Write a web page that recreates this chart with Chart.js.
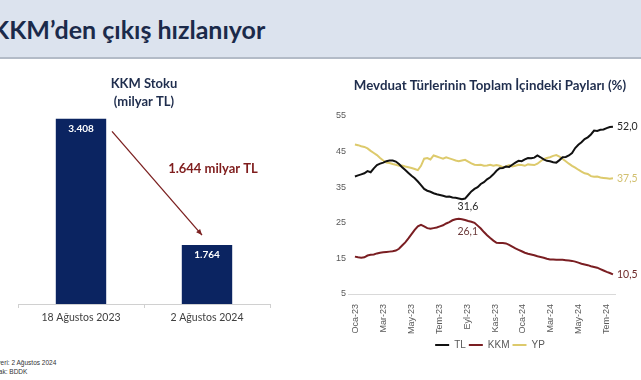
<!DOCTYPE html>
<html><head><meta charset="utf-8">
<script src="https://cdn.jsdelivr.net/npm/chart.js@4.4.1/dist/chart.umd.min.js"></script>
<style>
html,body{margin:0;padding:0;width:641px;height:380px;overflow:hidden;background:#fff;position:relative;}
#hdr{position:absolute;left:0;top:0;width:641px;height:57px;background:#dce3ee;border-bottom:2px solid #b3bbc7;overflow:hidden;}
#hdr span{position:absolute;left:-8px;top:14px;font:bold 25px 'Lato';color:#1b2a4a;white-space:nowrap;}
#barCanvas{position:absolute;left:0;top:64px;}
#lineCanvas{position:absolute;left:330px;top:62px;}
.fn{position:absolute;left:-16px;font:6.5px 'Liberation Sans';color:#333;white-space:nowrap;}
</style></head>
<body>
<div id="hdr"><span>KKM’den çıkış hızlanıyor</span></div>
<canvas id="barCanvas" width="288" height="264"></canvas>
<canvas id="lineCanvas" width="320" height="298"></canvas>
<div class="fn" style="top:359px">Son veri: 2 Ağustos 2024</div>
<div class="fn" style="top:368px">Kaynak: BDDK</div>
<script>
// ---- Left chart: KKM stock (billion TL)
const barTitle = ['KKM Stoku', '(milyar TL)'];
const barCategories = ['18 Ağustos 2023', '2 Ağustos 2024'];
const kkmStock = [3408, 1764];
const kkmDrop = 1644;

// ---- Right chart: shares of deposit types (%), weekly
const lineTitle = 'Mevduat Türlerinin Toplam İçindeki Payları (%)';
const seriesNames = ['TL', 'KKM', 'YP'];
const monthLabels = ['Oca-23','Mar-23','May-23','Tem-23','Eyl-23','Kas-23','Oca-24','Mar-24','May-24','Tem-24'];
const tlShare = [38.0,38.3,38.6,38.9,39.5,39.2,40.3,41.2,41.6,41.9,
 42.3,42.5,42.5,42.2,41.5,40.6,39.8,39.0,38.2,37.5,
 36.6,35.6,34.5,34.0,33.7,33.3,33.0,32.8,32.6,32.3,
 32.4,32.1,32.0,31.8,31.6,31.8,32.8,33.8,34.5,35.0,
 35.9,36.4,37.2,37.8,38.6,39.6,40.3,40.4,40.8,40.7,
 41.3,41.9,42.4,42.3,42.8,43.2,43.1,43.3,43.9,43.4,
 42.8,42.4,42.3,42.0,41.9,42.6,43.4,43.5,43.9,44.6,
 46.0,46.9,47.6,48.5,49.0,49.8,50.9,50.8,51.1,51.2,
 51.6,51.9,52.0];
const kkmShare = [15.5,15.3,15.2,15.3,15.8,16.0,16.1,16.4,16.6,16.7,
 16.8,16.9,17.0,17.2,17.7,18.6,19.5,20.6,21.8,23.0,
 24.0,24.4,24.0,23.5,23.3,23.5,23.7,24.0,24.3,24.8,
 25.2,25.7,26.0,26.1,26.0,25.8,25.5,25.3,25.0,24.2,
 23.4,22.4,21.5,20.7,20.0,19.4,19.3,19.3,19.2,18.8,
 18.3,17.8,17.4,17.0,16.6,16.3,16.1,15.9,15.6,15.4,
 15.2,14.9,14.7,14.7,14.6,14.6,14.6,14.5,14.4,14.3,
 14.1,13.8,13.5,13.3,13.1,12.8,12.6,12.4,12.0,11.6,
 11.2,10.9,10.5];
const ypShare = [47.0,46.8,46.5,46.3,45.9,45.2,44.6,44.0,43.2,42.5,
 41.9,41.8,41.5,41.3,41.0,41.1,40.8,40.6,40.4,40.1,
 39.8,41.0,43.0,43.2,42.8,43.9,43.6,43.3,43.0,43.4,
 43.1,42.8,42.5,42.3,42.5,42.7,42.2,41.7,41.3,41.2,
 41.3,41.0,41.1,41.3,41.0,41.2,41.0,40.6,40.8,41.2,
 40.8,41.0,41.3,41.2,41.0,41.4,41.3,41.2,41.6,42.3,
 42.9,43.2,43.4,43.8,44.0,43.6,42.9,42.3,41.6,41.0,
 40.5,39.9,39.4,38.9,38.7,38.1,37.9,38.0,37.7,37.6,
 37.5,37.4,37.5];
const yTicks = [5, 15, 25, 35, 45, 55];

const fmtThousand = v => String(v).replace(/\B(?=(\d{3})+(?!\d))/g, '.');
const fmtComma = v => v.toFixed(1).replace('.', ',');

const barLabels = {
  id: 'barLabels',
  afterDatasetsDraw(chart) {
    const ctx = chart.ctx, meta = chart.getDatasetMeta(0);
    ctx.save();
    ctx.font = 'bold 10px Lato';
    ctx.fillStyle = '#ffffff';
    ctx.textAlign = 'center';
    ctx.textBaseline = 'middle';
    meta.data.forEach((b, i) => ctx.fillText(fmtThousand(kkmStock[i]), b.x, b.y + 10));
    const b0 = meta.data[0], b1 = meta.data[1];
    const x1 = b0.x + 31, y1 = b0.y + 13, x2 = b1.x - 5, y2 = b1.y - 10;
    ctx.strokeStyle = '#7b2020';
    ctx.fillStyle = '#7b2020';
    ctx.lineWidth = 1.3;
    ctx.beginPath(); ctx.moveTo(x1, y1); ctx.lineTo(x2, y2); ctx.stroke();
    const a = Math.atan2(y2 - y1, x2 - x1), L = 6.5;
    ctx.beginPath();
    ctx.moveTo(x2, y2);
    ctx.lineTo(x2 - L * Math.cos(a - 0.42), y2 - L * Math.sin(a - 0.42));
    ctx.lineTo(x2 - L * Math.cos(a + 0.42), y2 - L * Math.sin(a + 0.42));
    ctx.closePath(); ctx.fill();
    ctx.font = 'bold 13px Lato';
    ctx.fillStyle = '#7f1d1d';
    ctx.fillText(fmtThousand(kkmDrop) + ' milyar TL', b1.x + 6, (y1 + y2) / 2 - 14);
    ctx.restore();
  }
};

new Chart(document.getElementById('barCanvas'), {
  type: 'bar',
  data: { labels: barCategories, datasets: [{ data: kkmStock, backgroundColor: '#0b2461', barPercentage: 0.4, categoryPercentage: 1 }] },
  options: {
    responsive: false, animation: false, devicePixelRatio: 1,
    layout: { padding: { left: 18, right: 18, top: 0, bottom: 0 } },
    plugins: {
      legend: { display: false }, tooltip: { enabled: false },
      title: { display: true, text: barTitle, color: '#1f2d4d',
        font: { family: 'Lato', size: 13, weight: 'bold', lineHeight: 1.4 }, padding: { top: 11, bottom: 7 } }
    },
    scales: {
      x: {
        grid: { display: true, drawOnChartArea: false, drawTicks: true, tickLength: 4, color: '#d0d0d0' },
        border: { display: true, color: '#d0d0d0' },
        ticks: { font: { family: 'Lato', size: 10.5 }, color: '#404040', padding: 3 },
        afterFit(s) { s.height = 24; }
      },
      y: { display: false, min: 1000, max: 3408 }
    }
  },
  plugins: [barLabels]
});

const lineLabels = {
  id: 'lineLabels',
  afterDatasetsDraw(chart) {
    const ctx = chart.ctx, xs = chart.scales.x, ys = chart.scales.y;
    const n = tlShare.length - 1;
    ctx.save();
    ctx.font = '10.5px Lato';
    ctx.textBaseline = 'middle';
    ctx.textAlign = 'left';
    [[tlShare, '#262626'], [ypShare, '#d2c070'], [kkmShare, '#6e2a2a']].forEach(([arr, c]) => {
      ctx.fillStyle = c;
      ctx.fillText(fmtComma(arr[n]), xs.getPixelForValue(n) + 4, ys.getPixelForValue(arr[n]));
    });
    ctx.textAlign = 'center';
    const tlMin = Math.min(...tlShare), iMin = tlShare.indexOf(tlMin);
    ctx.fillStyle = '#262626';
    ctx.fillText(fmtComma(tlMin), xs.getPixelForValue(iMin) + 6, ys.getPixelForValue(tlMin) + 7);
    const kMax = Math.max(...kkmShare), iMax = kkmShare.indexOf(kMax);
    ctx.fillStyle = '#6b3a3a';
    ctx.fillText(fmtComma(kMax), xs.getPixelForValue(iMax) + 9, ys.getPixelForValue(kMax) + 13);
    ctx.restore();
  }
};

const toXY = arr => arr.map((v, i) => ({ x: i, y: v }));
new Chart(document.getElementById('lineCanvas'), {
  type: 'line',
  data: {
    datasets: [
      { label: seriesNames[0], data: toXY(tlShare), borderColor: '#111111', backgroundColor: '#111111', borderWidth: 2, pointRadius: 0, tension: 0 },
      { label: seriesNames[1], data: toXY(kkmShare), borderColor: '#7a1e22', backgroundColor: '#7a1e22', borderWidth: 2, pointRadius: 0, tension: 0 },
      { label: seriesNames[2], data: toXY(ypShare), borderColor: '#ddca6c', backgroundColor: '#ddca6c', borderWidth: 2, pointRadius: 0, tension: 0 }
    ]
  },
  options: {
    responsive: false, animation: false, devicePixelRatio: 1,
    layout: { padding: 0 },
    plugins: {
      tooltip: { enabled: false },
      title: { display: true, text: lineTitle, color: '#1f2d4d',
        font: { family: 'Lato', size: 13.3, weight: 'bold', lineHeight: 1.2 }, padding: { top: 16, bottom: 22 } },
      legend: { position: 'bottom',
        labels: { usePointStyle: true, pointStyle: 'line', pointStyleWidth: 14, padding: 3,
          font: { family: 'Liberation Sans', size: 10 }, color: '#595959' } }
    },
    scales: {
      x: {
        type: 'linear', min: -2.2, max: 82.65,
        grid: { display: false },
        border: { display: true, color: '#d9d9d9' },
        afterBuildTicks(s) { s.ticks = monthLabels.map((_, k) => ({ value: 0.3 + k * 8.85 })); },
        ticks: { autoSkip: false, minRotation: 90, maxRotation: 90, padding: 2,
          font: { family: 'Liberation Sans', size: 9 }, color: '#595959',
          callback: (v, i) => monthLabels[i] },
        afterFit(s) { s.height = 43; }
      },
      y: {
        min: 5, max: 55,
        afterBuildTicks(s) { s.ticks = yTicks.map(v => ({ value: v })); },
        grid: { display: false, drawTicks: false, tickLength: 0 }, border: { display: false },
        ticks: { font: { family: 'Liberation Sans', size: 9 }, color: '#595959', padding: 2 },
        afterFit(s) { s.width = 18; }
      },
      y2: {
        position: 'right', display: true, min: 0, max: 1,
        grid: { display: false }, border: { display: false }, ticks: { display: false },
        afterFit(s) { s.width = 35; }
      }
    }
  },
  plugins: [lineLabels]
});
</script>
</body></html>
